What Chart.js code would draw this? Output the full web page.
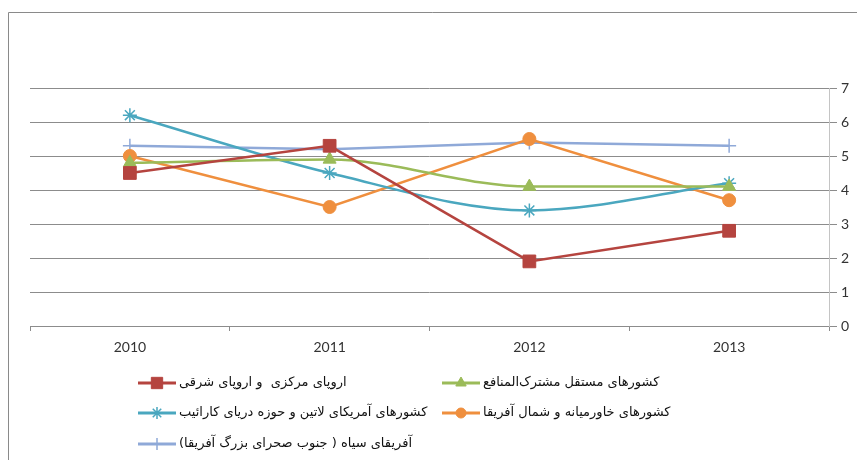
<!DOCTYPE html>
<html lang="fa">
<head>
<meta charset="UTF-8">
<title>chart</title>
<script src="https://cdn.jsdelivr.net/npm/chart.js@4.4.0/dist/chart.umd.min.js"></script>
<style>
    html,body{margin:0;padding:0;background:#fff;}
</style>
</head>
<body>
<canvas id="myChart" width="857" height="460"></canvas>
<script>
// data
let years=["2010","2011","2012","2013"]
let europe=[4.5,5.3,1.9,2.8]
let cis=[4.8,4.9,4.1,4.1]
let latin=[6.2,4.5,3.4,4.2]
let mena=[5.0,3.5,5.5,3.7]
let africa=[5.3,5.2,5.4,5.3]
let yTicks=[0,1,2,3,4,5,6,7]

let names=[
    "اروپای مرکزی  و اروپای شرقی",
    "کشورهای مستقل مشترک‌المنافع",
    "کشورهای آمریکای لاتین و حوزه دریای کارائیب",
    "کشورهای خاورمیانه و شمال آفریقا",
    "آفریقای سیاه ( جنوب صحرای بزرگ آفریقا)"
]

function serie(label,data,color,style,radius,smooth){
    return {
        label:label,
        data:data,
        borderColor:color,
        backgroundColor:color,
        pointBackgroundColor:color,
        pointBorderColor:color,
        pointStyle:style,
        pointRadius:radius,
        pointBorderWidth:(style=='star'||style=='cross')?1.5:1,
        borderWidth:2.5,
        tension:smooth?0.4:0,
        cubicInterpolationMode:smooth?'monotone':'default'
    }
}

// frame round the chart
const frame={
    id:'frame',
    beforeDraw(chart){
        const ctx=chart.ctx
        ctx.save()
        ctx.fillStyle='#fff'
        ctx.fillRect(0,0,chart.width,chart.height)
        ctx.strokeStyle='#8a8a8a'
        ctx.lineWidth=1
        ctx.beginPath()
        ctx.moveTo(8.5,460)
        ctx.lineTo(8.5,12.5)
        ctx.lineTo(857,12.5)
        ctx.stroke()
        ctx.restore()
    }
}

// legend drawn in two columns like the original
const legendBox={
    id:'legendBox',
    afterDraw(chart){
        const ctx=chart.ctx
        const pos=[[138,383],[442,383],[138,413],[442,413],[138,444]]
        const rad=[8,6,6,5,6]
        chart.data.datasets.forEach((ds,i)=>{
            let x=pos[i][0], y=pos[i][1]
            ctx.save()
            ctx.strokeStyle=ds.borderColor
            ctx.lineWidth=3
            ctx.beginPath()
            ctx.moveTo(x,y)
            ctx.lineTo(x+38,y)
            ctx.stroke()
            ctx.fillStyle=ds.pointBackgroundColor
            ctx.strokeStyle=ds.pointBorderColor
            ctx.lineWidth=ds.pointBorderWidth
            Chart.helpers.drawPoint(ctx,{pointStyle:ds.pointStyle,radius:rad[i],borderWidth:ds.pointBorderWidth,rotation:0},x+19,y)
            ctx.font='13px "DejaVu Sans"'
            ctx.fillStyle='#111'
            ctx.textBaseline='middle'
            ctx.direction='rtl'
            ctx.textAlign='left'
            ctx.fillText(names[i],x+41,y)
            ctx.restore()
        })
    }
}

const ctx=document.getElementById('myChart').getContext('2d')
const myChart=new Chart(ctx,{
    type:'line',
    data:{
        labels:years,
        datasets:[
            serie(names[0],europe,'#b5443f','rect',9,false),
            serie(names[1],cis,'#9bbb59','triangle',7.5,true),
            serie(names[2],latin,'#4aa7bf','star',7,true),
            serie(names[3],mena,'#ef8f3e','circle',6.5,false),
            serie(names[4],africa,'#8fa9d8','cross',7,false)
        ]
    },
    plugins:[frame,legendBox],
    options:{
        responsive:false,
        animation:false,
        layout:{padding:{left:30,top:88,right:0,bottom:94}},
        plugins:{legend:{display:false},tooltip:{enabled:false}},
        scales:{
            x:{
                offset:true,
                grid:{offset:true,drawOnChartArea:false,tickLength:5,color:'#8c8c8c'},
                border:{color:'#8c8c8c'},
                ticks:{color:'#333',font:{family:'Lato',size:14},padding:8},
                afterFit(scale){scale.height=40}
            },
            y:{
                position:'right',
                min:yTicks[0],
                max:yTicks[yTicks.length-1],
                afterBuildTicks(scale){scale.ticks=yTicks.map(v=>({value:v}))},
                grid:{color:'#8c8c8c',tickLength:8},
                border:{color:'#c4c4c4'},
                ticks:{color:'#333',font:{family:'Lato',size:14},padding:4},
                afterFit(scale){scale.width=28}
            }
        }
    }
})
</script>
</body>
</html>
